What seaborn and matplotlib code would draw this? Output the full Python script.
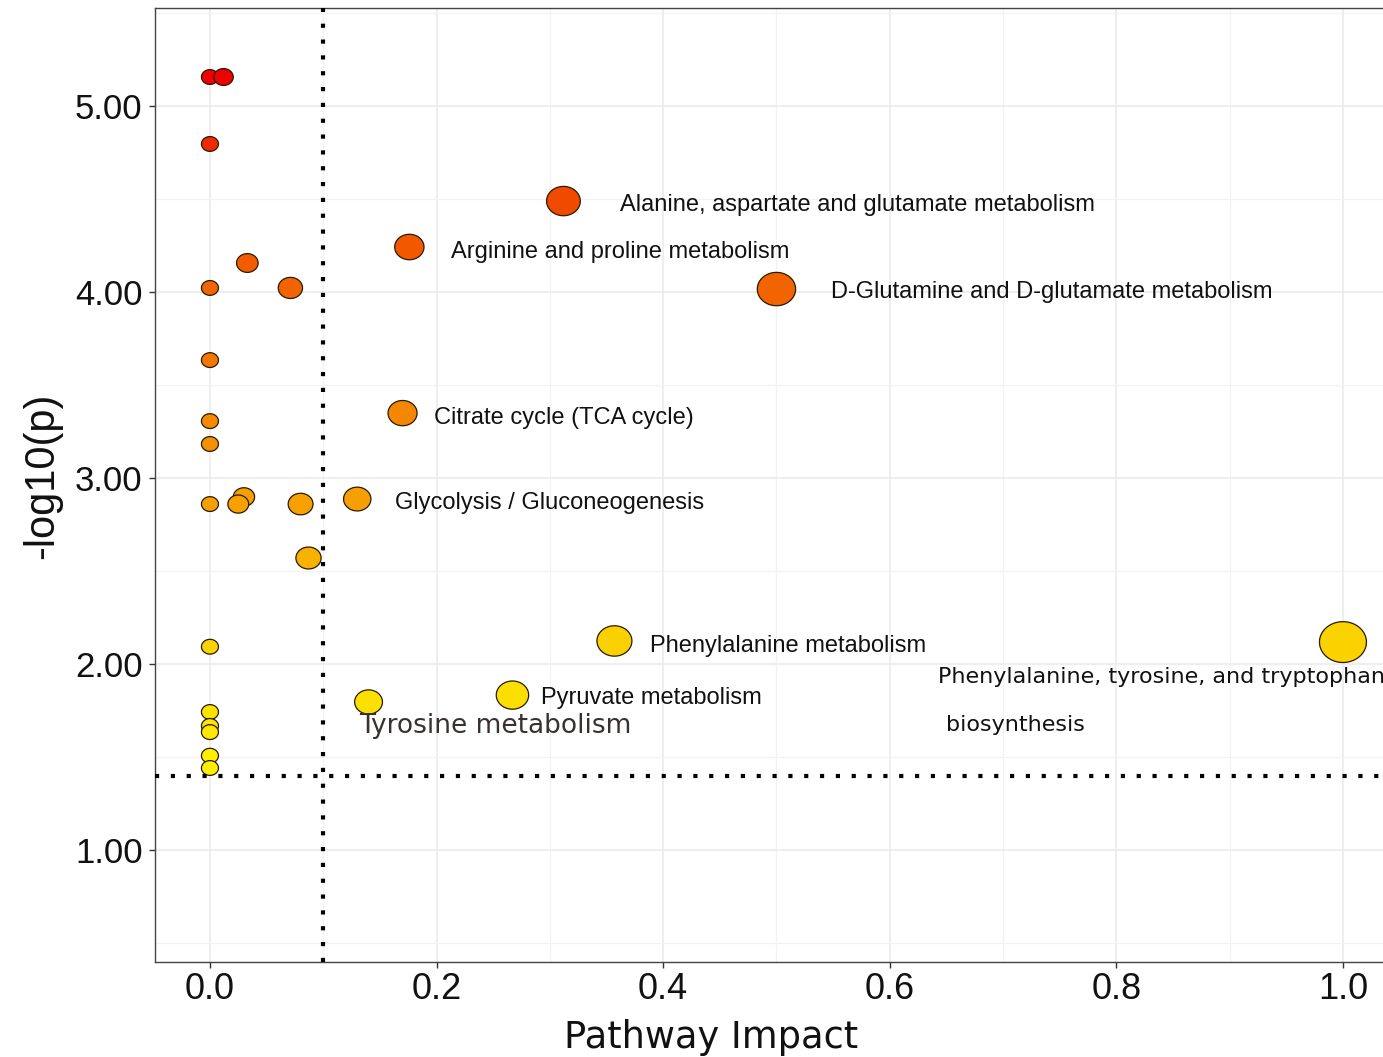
import numpy as np
import pandas as pd
import matplotlib
matplotlib.use("Agg")
import matplotlib.pyplot as plt
from matplotlib.colors import LinearSegmentedColormap, PowerNorm
from matplotlib.path import Path
from matplotlib.ticker import MultipleLocator, FormatStrFormatter
import seaborn as sns

# Pathway impact (x) and -log10(p) (y) for every pathway
impact = [0.000, 0.012, 0.000, 0.312, 0.176, 0.033, 0.000, 0.071, 0.500, 0.000,
          0.170, 0.000, 0.000, 0.030, 0.130, 0.000, 0.025, 0.080, 0.087, 0.357,
          1.000, 0.000, 0.267, 0.140, 0.000, 0.000, 0.000, 0.000, 0.000]
logp = [5.156, 5.156, 4.796, 4.489, 4.242, 4.156, 4.022, 4.022, 4.016, 3.634,
        3.349, 3.306, 3.183, 2.898, 2.887, 2.860, 2.860, 2.860, 2.570, 2.124,
        2.118, 2.093, 1.833, 1.796, 1.742, 1.667, 1.634, 1.507, 1.441]

# Labelled pathways
label_text = ["Alanine, aspartate and glutamate metabolism",
              "Arginine and proline metabolism",
              "D-Glutamine and D-glutamate metabolism",
              "Citrate cycle (TCA cycle)",
              "Glycolysis / Gluconeogenesis",
              "Phenylalanine metabolism",
              "Phenylalanine, tyrosine, and tryptophan",
              "biosynthesis",
              "Pyruvate metabolism",
              "Tyrosine metabolism"]
label_x = [0.362, 0.213, 0.548, 0.198, 0.163, 0.388, 0.643, 0.650, 0.292, 0.132]
label_y = [4.468, 4.215, 4.000, 3.323, 2.866, 2.097, 1.930, 1.672, 1.817, 1.667]

impact_cut = 0.1
logp_cut = 1.40

df = pd.DataFrame({"impact": impact, "logp": logp})

fig = plt.figure(figsize=(13.83, 10.57), dpi=100)
ax = fig.add_axes([155 / 1383, 1 - 962 / 1057, 1244.6 / 1383, 954 / 1057])

heat = LinearSegmentedColormap.from_list(
    "heat", ["#FFF000", "#F9D600", "#F6AA00", "#F58A00", "#F26A00", "#F04800", "#F00000"])

# slightly wide ellipse marker
t = np.linspace(0, 2 * np.pi, 64)
ellipse = Path(np.column_stack([1.15 * np.cos(t), np.sin(t)]), closed=True)

sns.scatterplot(data=df, x="impact", y="logp", hue="logp", palette=heat,
                hue_norm=(min(logp), max(logp)), size="impact",
                sizes=(150, 1145), size_norm=PowerNorm(0.7, vmin=0, vmax=1),
                marker=ellipse, edgecolor="#2a1a00", linewidth=0.9,
                legend=False, ax=ax, zorder=3)

ax.axvline(impact_cut, color="black", lw=3, linestyle=(0, (1, 2.8)), zorder=4)
ax.axhline(logp_cut, color="black", lw=3, linestyle=(0, (1, 2.8)), zorder=4)

# labels
for i, txt in enumerate(label_text):
    if txt.startswith("Phenylalanine,") or txt == "biosynthesis":
        ax.text(label_x[i], label_y[i], txt, fontsize=16, family="DejaVu Sans",
                color="#111111", va="center", ha="left", clip_on=False)
    elif txt == "Tyrosine metabolism":
        ax.text(label_x[i], label_y[i], txt, fontsize=19, family="DejaVu Sans",
                color="#3a3030", va="center", ha="left")
    else:
        ax.text(label_x[i], label_y[i], txt, fontsize=17, family="Liberation Sans",
                color="#111111", va="center", ha="left")

ax.set_xlim(-0.0485, 1.05)
ax.set_ylim(0.398, 5.527)
ax.xaxis.set_major_locator(MultipleLocator(0.2))
ax.xaxis.set_minor_locator(MultipleLocator(0.1))
ax.yaxis.set_major_locator(MultipleLocator(1.0))
ax.yaxis.set_minor_locator(MultipleLocator(0.5))
ax.yaxis.set_major_formatter(FormatStrFormatter("%.2f"))
ax.xaxis.set_major_formatter(FormatStrFormatter("%.1f"))

ax.grid(which="major", color="#EBEBEB", lw=1.2, zorder=0)
ax.grid(which="minor", color="#F2F2F2", lw=0.9, zorder=0)
ax.set_axisbelow(True)

for side in ["left", "top", "bottom"]:
    ax.spines[side].set_color("#444444")
    ax.spines[side].set_linewidth(1.0)
ax.spines["right"].set_visible(False)

ax.tick_params(axis="both", which="major", length=4, width=1, color="#333333")
ax.tick_params(axis="both", which="minor", length=0)
ax.tick_params(axis="y", pad=5)
ax.tick_params(axis="x", pad=3)
for lab in ax.get_yticklabels():
    lab.set_family("Liberation Sans")
    lab.set_fontsize(25)
    lab.set_color("#111111")
for lab in ax.get_xticklabels():
    lab.set_family("Liberation Sans")
    lab.set_fontsize(26)
    lab.set_color("#111111")

ax.set_xlabel("Pathway Impact", family="DejaVu Sans", fontsize=26.5, color="#111111")
ax.xaxis.set_label_coords(0.447, -0.060)
ax.set_ylabel("-log10(p)", family="Liberation Sans", fontsize=30, color="#111111")
ax.yaxis.set_label_coords(-0.075, 0.51)

fig.savefig("out.png", dpi=100)
